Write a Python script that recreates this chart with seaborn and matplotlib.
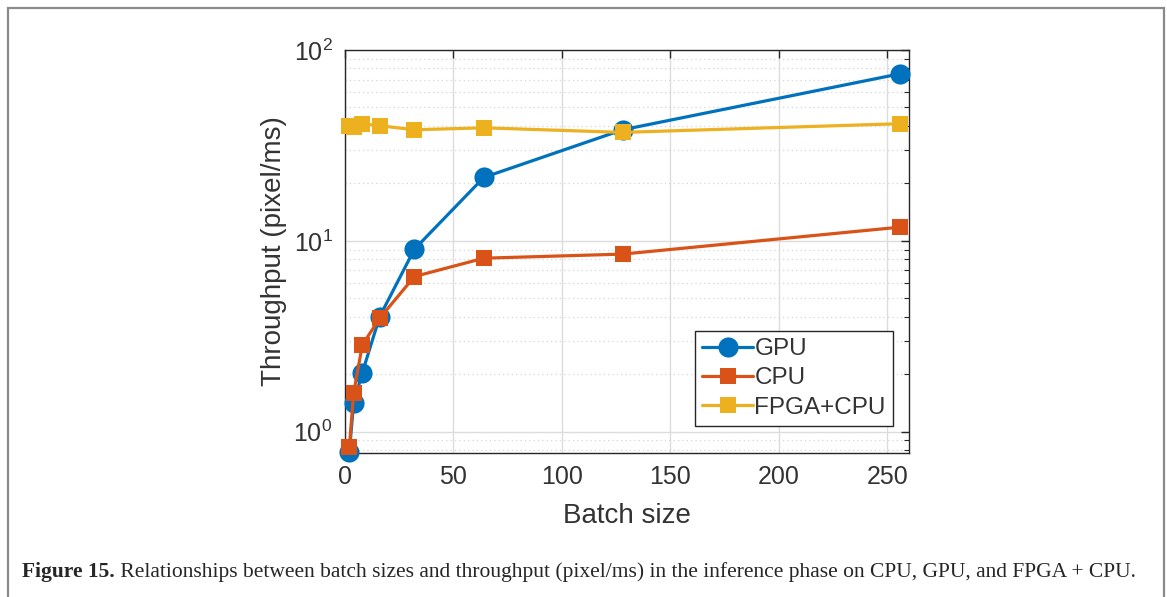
import numpy as np
import pandas as pd
import matplotlib
matplotlib.use("Agg")
import matplotlib.pyplot as plt
import seaborn as sns
from matplotlib.patches import Rectangle
from matplotlib.ticker import LogLocator, NullFormatter

# Throughput (pixel/ms) measured per batch size
batch_sizes = [2, 4, 8, 16, 32, 64, 128, 256]
gpu_throughput = [0.785, 1.42, 2.04, 4.01, 9.04, 21.5, 38.2, 75.1]
cpu_throughput = [0.83, 1.60, 2.85, 3.93, 6.50, 8.11, 8.52, 11.8]
fpga_cpu_throughput = [40.1, 39.5, 41.1, 40.1, 38.2, 39.1, 37.0, 41.1]

series_names = ["GPU", "CPU", "FPGA+CPU"]
series_colors = ["#0072BD", "#D95319", "#EDB120"]
series_markers = ["o", "s", "s"]
series_msizes = [14.5, 11.5, 11.5]

x_ticks = [0, 50, 100, 150, 200, 250]
x_label = "Batch size"
y_label = "Throughput (pixel/ms)"
caption_bold = "Figure 15."
caption_text = (" Relationships between batch sizes and throughput (pixel/ms) in the "
                "inference phase on CPU, GPU, and FPGA + CPU.")

sns.set_theme(style="white")
plt.rcParams["font.family"] = ["Liberation Sans", "DejaVu Sans"]
plt.rcParams["mathtext.fontset"] = "custom"
plt.rcParams["mathtext.rm"] = "Liberation Sans"

df = pd.DataFrame({
    "batch": batch_sizes * 3,
    "throughput": gpu_throughput + cpu_throughput + fpga_cpu_throughput,
    "device": sum([[n] * len(batch_sizes) for n in series_names], []),
})

fig = plt.figure(figsize=(11.67, 5.97), dpi=100)
fig.patch.set_facecolor("white")

# outer frame of the figure panel
fig.patches.append(Rectangle((8 / 1167, -0.05), (1164 - 8) / 1167, 1.05 - 8 / 597,
                             transform=fig.transFigure, fill=False,
                             edgecolor="#8a8a8a", linewidth=1.6, zorder=0))

ax = fig.add_axes([345 / 1167, 1 - 453 / 597, (909 - 345) / 1167, (453 - 50) / 597])

for name, color, marker, ms in zip(series_names, series_colors, series_markers, series_msizes):
    sub = df[df["device"] == name]
    sns.lineplot(data=sub, x="batch", y="throughput", ax=ax, color=color,
                 marker=marker, markersize=ms, markeredgewidth=0, linewidth=2.3,
                 label=name, clip_on=False, zorder=3)

ax.set_yscale("log")
ax.set_xlim(0, 260)
ax.set_ylim(0.773, 100)
ax.set_xticks(x_ticks)
ax.yaxis.set_major_locator(LogLocator(base=10, numticks=10))
ax.yaxis.set_minor_locator(LogLocator(base=10, subs=np.arange(2, 10), numticks=20))
ax.yaxis.set_minor_formatter(NullFormatter())

ax.grid(True, which="major", axis="both", color="#dcdcdc", linewidth=1.0, linestyle="-")
ax.grid(True, which="minor", axis="y", color="#d6d6d6", linewidth=0.9, linestyle=(0, (1, 2.5)))
ax.set_axisbelow(True)

for s in ax.spines.values():
    s.set_visible(True)
    s.set_color("#262626")
    s.set_linewidth(1.0)

ax.tick_params(axis="both", which="both", direction="in", top=True, right=True,
               colors="#262626", labelcolor="#333333")
ax.tick_params(axis="both", which="major", length=6, width=1.0, labelsize=18, pad=9)
ax.tick_params(axis="y", which="minor", length=3.5, width=0.8)

ax.set_xlabel(x_label, fontsize=20, color="#333333", labelpad=10)
ax.set_ylabel(y_label, fontsize=20, color="#333333", labelpad=5)

leg = ax.legend(loc="lower right", bbox_to_anchor=(893 / 1167, 1 - 426 / 597),
                bbox_transform=fig.transFigure, fontsize=17.5, frameon=True,
                fancybox=False, edgecolor="#262626", framealpha=1,
                handlelength=2.1, handletextpad=0.05, borderpad=0.3,
                labelspacing=0.3, borderaxespad=0)
leg.get_frame().set_linewidth(1.0)
for txt in leg.get_texts():
    txt.set_color("#333333")

fig.text(22 / 1167, 1 - 572 / 597, caption_bold, fontsize=15.5, fontweight="bold",
         family=["Liberation Serif", "DejaVu Serif"], va="center", ha="left")
t = fig.text(0, 0, "")
fig.canvas.draw()
bold_obj = fig.texts[-2]
bb = bold_obj.get_window_extent()
t.set_position((bb.x1 / 1167, 1 - 572 / 597))
t.set_text(caption_text)
t.set_fontsize(15.5)
t.set_family(["Liberation Serif", "DejaVu Serif"])
t.set_va("center")

fig.savefig("out.png", dpi=100, facecolor="white")
